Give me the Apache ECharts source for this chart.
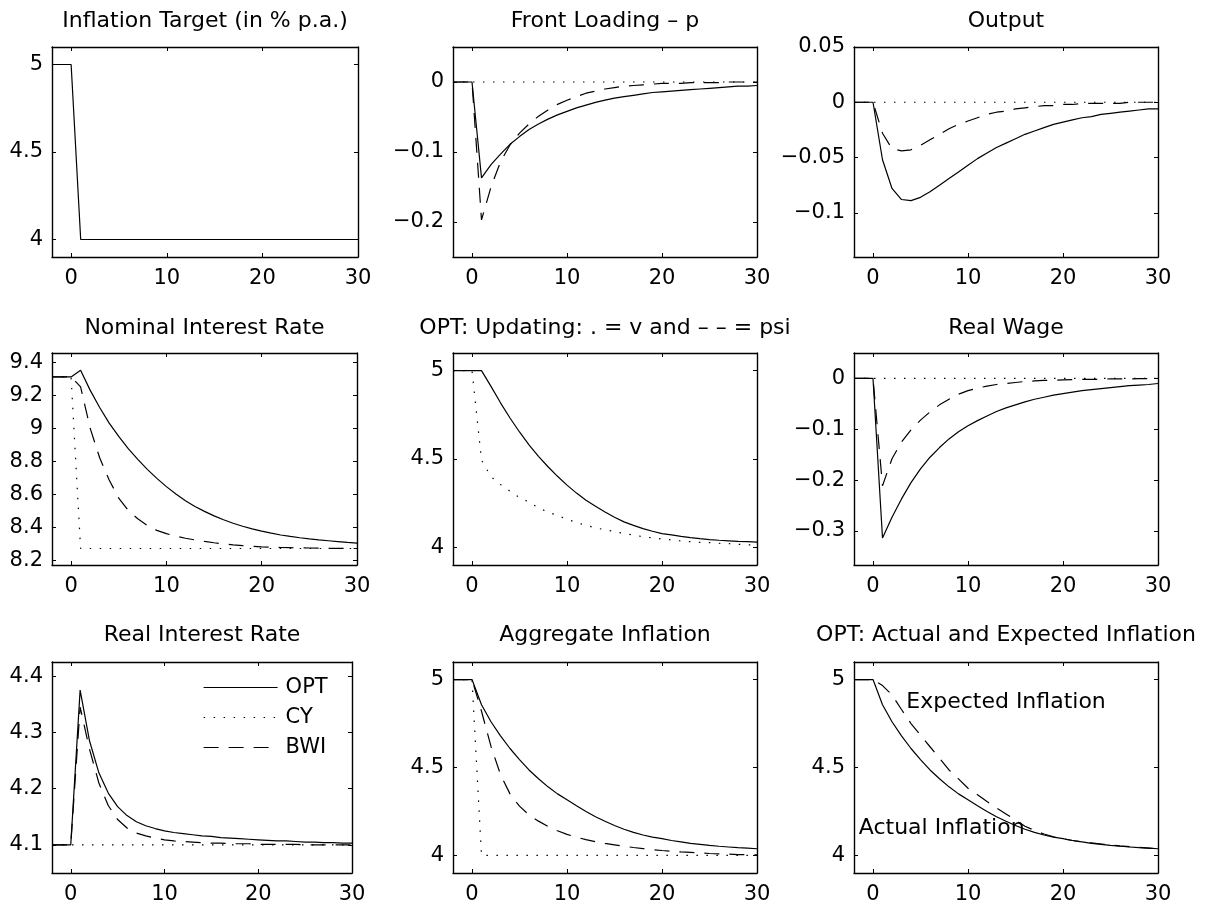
<!DOCTYPE html>
<html>
<head>
<meta charset="utf-8">
<title>Impulse responses</title>
<script src="https://cdn.jsdelivr.net/npm/echarts@6/dist/echarts.min.js"></script>
<style>
  html, body { margin: 0; padding: 0; background: #fff; }
  #chart { width: 1212px; height: 910px; }
</style>
</head>
<body>
<div id="chart"></div>
<script>
// quarters, the target is cut at t = 1
const periods = [-2, -1, 0, 1, 2, 3, 4, 5, 6, 7, 8, 9, 10, 11, 12, 13, 14, 15, 16,
  17, 18, 19, 20, 21, 22, 23, 24, 25, 26, 27, 28, 29, 30];
const xTicks = [0, 10, 20, 30];

// Inflation target
const targetOpt = [5, 5, 5, 4, 4, 4, 4, 4, 4, 4, 4, 4, 4, 4, 4, 4, 4, 4, 4, 4, 4,
  4, 4, 4, 4, 4, 4, 4, 4, 4, 4, 4, 4];

// Front loading - p
const frontOpt = [0, 0, 0, -0.137, -0.118, -0.103, -0.089, -0.078, -0.068, -0.060, -0.053,
  -0.047, -0.042, -0.037, -0.033, -0.029, -0.026, -0.023, -0.021, -0.019, -0.017, -0.015,
  -0.014, -0.013, -0.012, -0.011, -0.010, -0.009, -0.008, -0.007, -0.006, -0.006, -0.005];
const frontCY = [0, 0, 0, 0, 0, 0, 0, 0, 0, 0, 0, 0, 0, 0, 0, 0, 0, 0, 0, 0, 0, 0, 0,
  0, 0, 0, 0, 0, 0, 0, 0, 0, 0];
const frontBWI = [0, 0, 0, -0.197, -0.150, -0.114, -0.090, -0.073, -0.060, -0.049, -0.040,
  -0.032, -0.026, -0.021, -0.016, -0.013, -0.010, -0.008, -0.006, -0.005, -0.004, -0.003,
  -0.002, -0.002, -0.002, -0.001, -0.001, -0.001, -0.001, 0, 0, 0, 0];

// Output
const outputOpt = [0, 0, 0, -0.052, -0.078, -0.088, -0.089, -0.086, -0.081, -0.075, -0.069,
  -0.063, -0.057, -0.051, -0.046, -0.041, -0.037, -0.033, -0.029, -0.026, -0.023, -0.020,
  -0.018, -0.016, -0.014, -0.013, -0.011, -0.010, -0.009, -0.008, -0.007, -0.006, -0.006];
const outputCY = [0, 0, 0, 0, 0, 0, 0, 0, 0, 0, 0, 0, 0, 0, 0, 0, 0, 0, 0, 0, 0, 0, 0,
  0, 0, 0, 0, 0, 0, 0, 0, 0, 0];
const outputBWI = [0, 0, 0, -0.028, -0.042, -0.044, -0.043, -0.039, -0.034, -0.029, -0.024,
  -0.020, -0.017, -0.014, -0.011, -0.009, -0.008, -0.006, -0.005, -0.004, -0.003, -0.003,
  -0.002, -0.002, -0.001, -0.001, -0.001, -0.001, -0.001, 0, 0, 0, 0];

// Nominal interest rate
const nominalOpt = [9.31, 9.31, 9.31, 9.35, 9.23, 9.125, 9.03, 8.95, 8.875, 8.81, 8.75,
  8.695, 8.645, 8.60, 8.56, 8.525, 8.495, 8.468, 8.444, 8.423, 8.405, 8.389, 8.375,
  8.363, 8.352, 8.343, 8.335, 8.328, 8.322, 8.317, 8.312, 8.307, 8.303];
const nominalCY = [9.31, 9.31, 9.31, 8.27, 8.27, 8.27, 8.27, 8.27, 8.27, 8.27, 8.27,
  8.27, 8.27, 8.27, 8.27, 8.27, 8.27, 8.27, 8.27, 8.27, 8.27, 8.27, 8.27, 8.27, 8.27,
  8.27, 8.27, 8.27, 8.27, 8.27, 8.27, 8.27, 8.27];
const nominalBWI = [9.31, 9.31, 9.31, 9.25, 9.00, 8.82, 8.685, 8.575, 8.50, 8.45, 8.41,
  8.38, 8.36, 8.345, 8.332, 8.322, 8.313, 8.305, 8.298, 8.292, 8.287, 8.283, 8.28,
  8.278, 8.276, 8.275, 8.274, 8.273, 8.272, 8.271, 8.271, 8.27, 8.27];

// OPT updating: psi (solid) and v (dotted)
const updPsi = [5, 5, 5, 5, 4.911, 4.818, 4.732, 4.653, 4.58, 4.515, 4.456, 4.402, 4.352,
  4.307, 4.267, 4.232, 4.2, 4.17, 4.144, 4.124, 4.106, 4.091, 4.078, 4.07, 4.062, 4.055,
  4.049, 4.044, 4.04, 4.037, 4.034, 4.032, 4.03];
const updV = [5, 5, 5, 4.494, 4.40, 4.356, 4.318, 4.282, 4.256, 4.223, 4.2, 4.18, 4.159,
  4.14, 4.125, 4.11, 4.1, 4.09, 4.078, 4.07, 4.06, 4.053, 4.047, 4.042, 4.036, 4.032,
  4.028, 4.027, 4.023, 4.021, 4.017, 4.015, 4.011];

// Real wage
const wageOpt = [0, 0, 0, -0.314, -0.273, -0.237, -0.205, -0.178, -0.155, -0.136, -0.119,
  -0.105, -0.093, -0.083, -0.074, -0.065, -0.058, -0.052, -0.046, -0.041, -0.037, -0.033,
  -0.030, -0.027, -0.024, -0.022, -0.020, -0.018, -0.016, -0.014, -0.013, -0.012, -0.010];
const wageCY = [0, 0, 0, 0, 0, 0, 0, 0, 0, 0, 0, 0, 0, 0, 0, 0, 0, 0, 0, 0, 0, 0, 0,
  0, 0, 0, 0, 0, 0, 0, 0, 0, 0];
const wageBWI = [0, 0, 0, -0.211, -0.158, -0.125, -0.101, -0.082, -0.066, -0.052, -0.041,
  -0.031, -0.024, -0.019, -0.015, -0.012, -0.010, -0.008, -0.006, -0.005, -0.004, -0.0035,
  -0.003, -0.0025, -0.002, -0.002, -0.0015, -0.001, -0.001, -0.001, -0.0005, -0.0005, 0];

// Real interest rate
const realOpt = [4.1, 4.1, 4.1, 4.375, 4.285, 4.228, 4.192, 4.168, 4.152, 4.141, 4.134,
  4.129, 4.125, 4.122, 4.12, 4.118, 4.116, 4.115, 4.113, 4.112, 4.111, 4.11, 4.109,
  4.108, 4.107, 4.107, 4.106, 4.105, 4.105, 4.104, 4.104, 4.103, 4.103];
const realCY = [4.1, 4.1, 4.1, 4.1, 4.1, 4.1, 4.1, 4.1, 4.1, 4.1, 4.1, 4.1, 4.1, 4.1, 4.1,
  4.1, 4.1, 4.1, 4.1, 4.1, 4.1, 4.1, 4.1, 4.1, 4.1, 4.1, 4.1, 4.1, 4.1, 4.1, 4.1, 4.1, 4.1];
const realBWI = [4.1, 4.1, 4.1, 4.345, 4.27, 4.21, 4.17, 4.145, 4.13, 4.121, 4.116, 4.112,
  4.109, 4.107, 4.106, 4.105, 4.104, 4.103, 4.103, 4.102, 4.102, 4.102, 4.101, 4.101,
  4.101, 4.101, 4.101, 4.1, 4.1, 4.1, 4.1, 4.1, 4.1];

// Aggregate inflation (OPT is also the actual inflation of the last panel)
const aggOpt = [5, 5, 5, 4.857, 4.76, 4.68, 4.608, 4.545, 4.486, 4.436, 4.39, 4.35, 4.316,
  4.282, 4.25, 4.22, 4.194, 4.17, 4.149, 4.131, 4.116, 4.104, 4.095, 4.085, 4.077, 4.069,
  4.063, 4.057, 4.052, 4.048, 4.044, 4.041, 4.038];
const aggCY = [5, 5, 5, 4, 4, 4, 4, 4, 4, 4, 4, 4, 4, 4, 4, 4, 4, 4, 4, 4, 4, 4, 4, 4, 4,
  4, 4, 4, 4, 4, 4, 4, 4];
const aggBWI = [5, 5, 5, 4.82, 4.62, 4.46, 4.35, 4.28, 4.23, 4.195, 4.165, 4.14, 4.12,
  4.103, 4.09, 4.078, 4.068, 4.06, 4.052, 4.045, 4.039, 4.033, 4.028, 4.024, 4.02, 4.017,
  4.014, 4.011, 4.009, 4.007, 4.005, 4.004, 4.003];

// OPT: expected inflation
const expectedOpt = [5, 5, 5, 4.966, 4.913, 4.83, 4.75, 4.684, 4.618, 4.552, 4.486, 4.435,
  4.382, 4.345, 4.307, 4.27, 4.236, 4.2, 4.166, 4.142, 4.122, 4.106, 4.094, 4.085, 4.077,
  4.071, 4.065, 4.059, 4.054, 4.05, 4.046, 4.042, 4.038];

// y tick labels
const ticksInfl = [4, 4.5, 5];
const ticksFront = [-0.2, -0.1, 0];
const ticksOutput = [-0.1, -0.05, 0, 0.05];
const ticksNominal = [8.2, 8.4, 8.6, 8.8, 9, 9.2, 9.4];
const ticksWage = [-0.3, -0.2, -0.1, 0];
const ticksReal = [4.1, 4.2, 4.3, 4.4];

const legendNames = ['OPT', 'CY', 'BWI'];
const annotations = [
  { name: 'Expected Inflation', value: [3.5, 4.872] },
  { name: 'Actual Inflation', value: [-1.5, 4.153] }
];

// ---- styling ----
const FONT = 'DejaVu Sans';
const SOLID = 'solid';
const DOTTED = [1.5, 8.5];
const DASHED = [15, 10];

const panels = [
  { title: 'Inflation Target (in % p.a.)', y: [3.9, 5.1], ticks: ticksInfl,
    lines: [['OPT', targetOpt, SOLID]] },
  { title: 'Front Loading \u2013 p', y: [-0.25, 0.05], ticks: ticksFront,
    lines: [['OPT', frontOpt, SOLID], ['CY', frontCY, DOTTED], ['BWI', frontBWI, DASHED]] },
  { title: 'Output', y: [-0.14, 0.05], ticks: ticksOutput,
    lines: [['OPT', outputOpt, SOLID], ['CY', outputCY, DOTTED], ['BWI', outputBWI, DASHED]] },
  { title: 'Nominal Interest Rate', y: [8.17, 9.455], ticks: ticksNominal,
    lines: [['OPT', nominalOpt, SOLID], ['CY', nominalCY, DOTTED], ['BWI', nominalBWI, DASHED]] },
  { title: 'OPT: Updating: . = v and \u2013 \u2013 = psi', y: [3.9, 5.1], ticks: ticksInfl,
    lines: [['psi', updPsi, SOLID], ['v', updV, DOTTED]] },
  { title: 'Real Wage', y: [-0.367, 0.05], ticks: ticksWage,
    lines: [['OPT', wageOpt, SOLID], ['CY', wageCY, DOTTED], ['BWI', wageBWI, DASHED]] },
  { title: 'Real Interest Rate', y: [4.05, 4.425], ticks: ticksReal,
    lines: [['OPT', realOpt, SOLID], ['CY', realCY, DOTTED], ['BWI', realBWI, DASHED]] },
  { title: 'Aggregate Inflation', y: [3.9, 5.1], ticks: ticksInfl,
    lines: [['OPT', aggOpt, SOLID], ['CY', aggCY, DOTTED], ['BWI', aggBWI, DASHED]] },
  { title: 'OPT: Actual and Expected Inflation', y: [3.9, 5.1], ticks: ticksInfl,
    lines: [['Actual', aggOpt, SOLID], ['Expected', expectedOpt, DASHED]] }
];

const colLeft = [52, 453, 854];
const widths = [306, 304, 304, 305, 304, 304, 300, 304, 304];
const rowTop = [47, 353, 662];
const rowHeight = [210, 212, 211];
const titleTop = [10, 317, 624];

function pairs(values) {
  return values.map((v, i) => [periods[i], v]);
}
function fmt(v) {
  return v < 0 ? '\u2212' + String(-v) : String(v);
}

const grid = [], xAxis = [], yAxis = [], title = [], series = [];

panels.forEach((p, i) => {
  const row = Math.floor(i / 3), col = i % 3;
  const left = colLeft[col], width = widths[i];
  grid.push({ left: left, top: rowTop[row], width: width, height: rowHeight[row] });
  title.push({
    text: p.title, left: left + width / 2, top: titleTop[row], textAlign: 'center', padding: 0,
    textStyle: { fontFamily: FONT, fontSize: 22, fontWeight: 'normal', color: '#000' }
  });
  const line = { show: true, onZero: false, lineStyle: { color: '#000', width: 1.4 } };
  const tick = (vals) => ({ show: true, inside: true, length: 4, customValues: vals,
    lineStyle: { color: '#000', width: 1 } });
  // bottom and top x axes (top only carries the mirrored ticks)
  xAxis.push({
    type: 'value', gridIndex: i, min: -2, max: 30, position: 'bottom',
    axisLine: line, axisTick: tick(xTicks), splitLine: { show: false },
    axisLabel: { customValues: xTicks, margin: 11, color: '#000', fontFamily: FONT, fontSize: 21 }
  });
  xAxis.push({
    type: 'value', gridIndex: i, min: -2, max: 30, position: 'top',
    axisLine: line, axisTick: tick(xTicks), splitLine: { show: false },
    axisLabel: { show: false }
  });
  yAxis.push({
    type: 'value', gridIndex: i, min: p.y[0], max: p.y[1], position: 'left',
    axisLine: line, axisTick: tick(p.ticks), splitLine: { show: false },
    axisLabel: { customValues: p.ticks, margin: 9, color: '#000', fontFamily: FONT,
      fontSize: 21, formatter: fmt }
  });
  yAxis.push({
    type: 'value', gridIndex: i, min: p.y[0], max: p.y[1], position: 'right',
    axisLine: line, axisTick: tick(p.ticks), splitLine: { show: false },
    axisLabel: { show: false }
  });
  p.lines.forEach(([name, values, dash]) => {
    series.push({
      name: name, type: 'line', xAxisIndex: 2 * i, yAxisIndex: 2 * i,
      data: pairs(values), symbol: 'none', showSymbol: false, animation: false,
      itemStyle: { color: '#000' },
      lineStyle: { color: '#000', width: 1.2, type: dash, cap: 'butt' }
    });
  });
});

// text labels inside the last panel
series.push({
  type: 'scatter', xAxisIndex: 16, yAxisIndex: 16, symbolSize: 0, silent: true,
  animation: false, data: annotations,
  itemStyle: { color: 'transparent', opacity: 1 },
  label: { show: true, position: 'right', distance: 0, formatter: '{b}', opacity: 1,
    color: '#000', fontFamily: FONT, fontSize: 22 }
});

const chart = echarts.init(document.getElementById('chart'), null, { renderer: 'canvas' });
chart.setOption({
  backgroundColor: '#fff',
  animation: false,
  title: title,
  grid: grid,
  xAxis: xAxis,
  yAxis: yAxis,
  legend: {
    data: legendNames, orient: 'vertical', left: 203, top: 677, padding: 0,
    itemWidth: 74, itemHeight: 21, itemGap: 9, selectedMode: false,
    itemStyle: { color: 'transparent', opacity: 0 },
    lineStyle: { width: 1.2 },
    textStyle: { color: '#000', fontFamily: FONT, fontSize: 21, padding: [0, 0, 0, 3] }
  },
  series: series
});
</script>
</body>
</html>
